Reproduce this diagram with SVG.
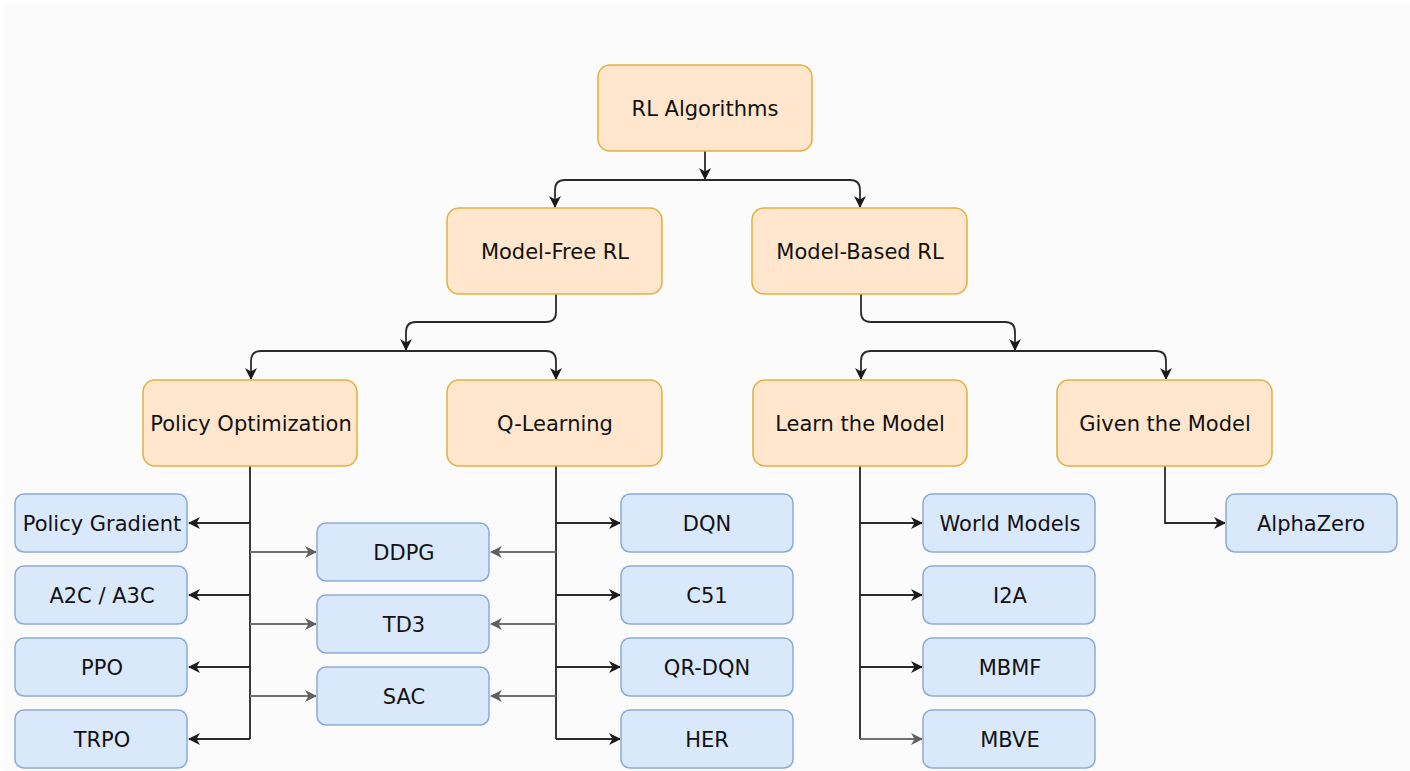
<svg xmlns="http://www.w3.org/2000/svg" width="1410" height="771" viewBox="0 0 1410 771">
  <style>
    .cat rect { fill: #ffe6cc; stroke: #e2b040; stroke-width: 1.5; }
    .alg rect { fill: #dae8fc; stroke: #8caad6; stroke-width: 1.5; }
    text { font-family: "DejaVu Sans", Verdana, sans-serif; font-size: 21px; fill: #111; text-anchor: middle; dominant-baseline: central; }
    .dark { fill: none; stroke: #2a2a2a; stroke-width: 1.8; marker-end: url(#arrowDark); }
    .gray { fill: none; stroke: #707070; stroke-width: 1.8; marker-end: url(#arrowGray); }
    .trunk { fill: none; stroke: #3a3a3a; stroke-width: 2; }
  </style>
  <defs>
    <marker id="arrowDark" viewBox="0 0 12 12" refX="11" refY="6" markerWidth="12" markerHeight="12" markerUnits="userSpaceOnUse" orient="auto">
      <path d="M0,0 L12,6 L0,12 L3.5,6 Z" fill="#1a1a1a"/>
    </marker>
    <marker id="arrowGray" viewBox="0 0 12 12" refX="11" refY="6" markerWidth="12" markerHeight="12" markerUnits="userSpaceOnUse" orient="auto">
      <path d="M0,0 L12,6 L0,12 L3.5,6 Z" fill="#606060"/>
    </marker>
  </defs>

  <rect x="0" y="0" width="1410" height="771" fill="#ffffff"/>
  <rect x="3" y="4" width="1407" height="767" fill="#fbfbfb"/>

  <!-- connectors -->
  <g id="connectors">
    <!-- root split -->
    <path class="dark" d="M705,151 V179"/>
    <path class="dark" d="M705,180 H565 Q555,180 555,190 V207"/>
    <path class="dark" d="M705,180 H850 Q860,180 860,190 V207"/>
    <!-- model-free split -->
    <path class="dark" d="M556,294 V312 Q556,322 546,322 H416 Q406,322 406,332 V350"/>
    <path class="dark" d="M406,351 H261 Q251,351 251,361 V379"/>
    <path class="dark" d="M406,351 H546 Q556,351 556,361 V379"/>
    <!-- model-based split -->
    <path class="dark" d="M861,294 V312 Q861,322 871,322 H1005 Q1015,322 1015,332 V350"/>
    <path class="dark" d="M1015,351 H871 Q861,351 861,361 V379"/>
    <path class="dark" d="M1015,351 H1156 Q1166,351 1166,361 V379"/>

    <!-- policy optimization branches -->
    <path class="trunk" d="M250,466 V739"/>
    <path class="dark" d="M250,523 H189"/>
    <path class="dark" d="M250,595 H189"/>
    <path class="dark" d="M250,667 H189"/>
    <path class="dark" d="M250,739 H189"/>
    <path class="gray" d="M250,552 H316"/>
    <path class="gray" d="M250,624 H316"/>
    <path class="gray" d="M250,696 H316"/>

    <!-- q-learning branches -->
    <path class="trunk" d="M556,466 V739"/>
    <path class="dark" d="M556,523 H620"/>
    <path class="dark" d="M556,595 H620"/>
    <path class="dark" d="M556,667 H620"/>
    <path class="dark" d="M556,739 H620"/>
    <path class="gray" d="M556,552 H491"/>
    <path class="gray" d="M556,624 H491"/>
    <path class="gray" d="M556,696 H491"/>

    <!-- learn-the-model branches -->
    <path class="trunk" d="M860,466 V739"/>
    <path class="dark" d="M860,523 H922"/>
    <path class="dark" d="M860,595 H922"/>
    <path class="dark" d="M860,667 H922"/>
    <path class="gray" d="M860,739 H922"/>

    <!-- given-the-model branch -->
    <path class="dark" d="M1165,466 V523 H1225"/>
  </g>

  <!-- category nodes -->
  <g id="rl-algorithms" class="cat"><rect x="598" y="65" width="214" height="86" rx="12"/><text x="705" y="109">RL Algorithms</text></g>
  <g id="model-free" class="cat"><rect x="447" y="208" width="215" height="86" rx="12"/><text x="555" y="252">Model-Free RL</text></g>
  <g id="model-based" class="cat"><rect x="752" y="208" width="215" height="86" rx="12"/><text x="860" y="252">Model-Based RL</text></g>
  <g id="policy-optimization" class="cat"><rect x="143" y="380" width="214" height="86" rx="12"/><text x="251" y="424">Policy Optimization</text></g>
  <g id="q-learning" class="cat"><rect x="447" y="380" width="215" height="86" rx="12"/><text x="555" y="424">Q-Learning</text></g>
  <g id="learn-model" class="cat"><rect x="753" y="380" width="214" height="86" rx="12"/><text x="860" y="424">Learn the Model</text></g>
  <g id="given-model" class="cat"><rect x="1057" y="380" width="215" height="86" rx="12"/><text x="1165" y="424">Given the Model</text></g>

  <!-- algorithm nodes -->
  <g id="policy-gradient" class="alg"><rect x="15" y="494" width="172" height="58" rx="9"/><text x="102" y="524">Policy Gradient</text></g>
  <g id="a2c-a3c" class="alg"><rect x="15" y="566" width="172" height="58" rx="9"/><text x="102" y="596">A2C / A3C</text></g>
  <g id="ppo" class="alg"><rect x="15" y="638" width="172" height="58" rx="9"/><text x="102" y="668">PPO</text></g>
  <g id="trpo" class="alg"><rect x="15" y="710" width="172" height="58" rx="9"/><text x="102" y="740">TRPO</text></g>

  <g id="ddpg" class="alg"><rect x="317" y="523" width="172" height="58" rx="9"/><text x="404" y="553">DDPG</text></g>
  <g id="td3" class="alg"><rect x="317" y="595" width="172" height="58" rx="9"/><text x="404" y="625">TD3</text></g>
  <g id="sac" class="alg"><rect x="317" y="667" width="172" height="58" rx="9"/><text x="404" y="697">SAC</text></g>

  <g id="dqn" class="alg"><rect x="621" y="494" width="172" height="58" rx="9"/><text x="707" y="524">DQN</text></g>
  <g id="c51" class="alg"><rect x="621" y="566" width="172" height="58" rx="9"/><text x="707" y="596">C51</text></g>
  <g id="qr-dqn" class="alg"><rect x="621" y="638" width="172" height="58" rx="9"/><text x="707" y="668">QR-DQN</text></g>
  <g id="her" class="alg"><rect x="621" y="710" width="172" height="58" rx="9"/><text x="707" y="740">HER</text></g>

  <g id="world-models" class="alg"><rect x="923" y="494" width="172" height="58" rx="9"/><text x="1010" y="524">World Models</text></g>
  <g id="i2a" class="alg"><rect x="923" y="566" width="172" height="58" rx="9"/><text x="1010" y="596">I2A</text></g>
  <g id="mbmf" class="alg"><rect x="923" y="638" width="172" height="58" rx="9"/><text x="1010" y="668">MBMF</text></g>
  <g id="mbve" class="alg"><rect x="923" y="710" width="172" height="58" rx="9"/><text x="1010" y="740">MBVE</text></g>

  <g id="alphazero" class="alg"><rect x="1226" y="494" width="171" height="58" rx="9"/><text x="1311" y="524">AlphaZero</text></g>
</svg>
